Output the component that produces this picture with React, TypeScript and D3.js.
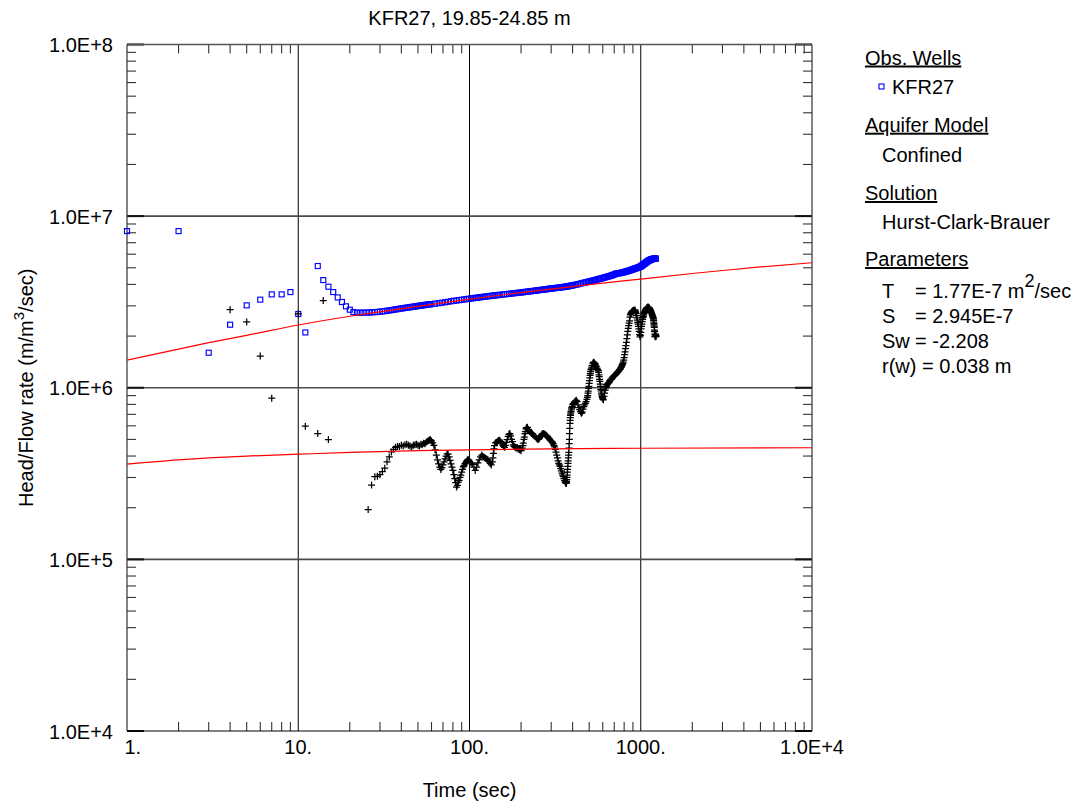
import React from "react";
import * as d3 from "d3";

// Axis ticks and labels
const xTickValues = [1, 10, 100, 1000, 10000];
const xTickLabels = ["1.", "10.", "100.", "1000.", "1.0E+4"];
const yTickValues = [1e4, 1e5, 1e6, 1e7, 1e8];
const yTickLabels = ["1.0E+4", "1.0E+5", "1.0E+6", "1.0E+7", "1.0E+8"];

// Observed head / flow rate for KFR27: [time (s), value in units of 1e6 m/m3/sec]
const HEAD_UNIT = 1e6;
const kfr27Head: [number, number][] = [
  [1, 8.18], [2, 8.18], [3, 1.6], [4, 2.33], [5, 3.02], [6, 3.26], [7, 3.5], [8, 3.5],
  [9, 3.61], [10, 2.69], [11, 2.1], [13, 5.12], [14, 4.24], [15, 3.88], [16, 3.61],
  [17, 3.36], [18, 3.16], [19, 2.98], [20, 2.85], [21, 2.76], [22, 2.74], [23, 2.74],
  [24, 2.74], [25, 2.742], [26, 2.745], [27, 2.75], [28, 2.757], [29, 2.765], [30, 2.775],
  [31, 2.785], [32, 2.797], [33, 2.81], [34, 2.822], [35, 2.835], [36, 2.848], [37, 2.86],
  [38, 2.872], [39, 2.885], [40, 2.897], [41, 2.907], [42, 2.918], [43, 2.928], [44, 2.938],
  [45, 2.948], [46, 2.958], [47, 2.967], [48, 2.976], [49, 2.985], [50, 2.995], [51, 3.003],
  [52, 3.012], [53, 3.02], [54, 3.028], [55, 3.036], [56, 3.044], [57, 3.052], [58, 3.06],
  [59, 3.067], [60, 3.074],
  [63, 3.09], [66, 3.11], [69, 3.13], [72, 3.15], [75, 3.17], [78, 3.19], [81, 3.21],
  [84, 3.225], [87, 3.24], [90, 3.255], [93, 3.27], [96, 3.285], [99, 3.3], [102, 3.31],
  [105, 3.325], [108, 3.34], [111, 3.35], [114, 3.36], [117, 3.375], [120, 3.385],
  [123, 3.395], [126, 3.405], [129, 3.415], [132, 3.425], [135, 3.435], [138, 3.445],
  [141, 3.455], [144, 3.46], [147, 3.47], [150, 3.48],
  [155, 3.49], [160, 3.5], [165, 3.515], [170, 3.525], [175, 3.535], [180, 3.55],
  [185, 3.56], [190, 3.57], [195, 3.58], [200, 3.59], [205, 3.6], [210, 3.615],
  [215, 3.625], [220, 3.635], [225, 3.645], [230, 3.655], [235, 3.665], [240, 3.675],
  [245, 3.685], [250, 3.695], [255, 3.705], [260, 3.715], [265, 3.72], [270, 3.73],
  [275, 3.74], [280, 3.75], [285, 3.76], [290, 3.77], [295, 3.775], [300, 3.785],
  [305, 3.79], [310, 3.8], [315, 3.81], [320, 3.815], [325, 3.82], [330, 3.83],
  [335, 3.835], [340, 3.845], [345, 3.85], [350, 3.86], [355, 3.865], [360, 3.875],
  [365, 3.88], [370, 3.89], [375, 3.9], [380, 3.91], [385, 3.92], [390, 3.93],
  [395, 3.94], [400, 3.95],
  [410, 3.97], [420, 3.99], [430, 4.01], [440, 4.03], [450, 4.06], [460, 4.08], [470, 4.1],
  [480, 4.12], [490, 4.14], [500, 4.16], [510, 4.18], [520, 4.2], [530, 4.22], [540, 4.24],
  [550, 4.26], [560, 4.28], [570, 4.3], [580, 4.32], [590, 4.34], [600, 4.36], [610, 4.38],
  [620, 4.4], [630, 4.42], [640, 4.44], [650, 4.46], [660, 4.48], [670, 4.5], [680, 4.52],
  [690, 4.54], [700, 4.57], [710, 4.6], [720, 4.63], [730, 4.64], [740, 4.64], [750, 4.65],
  [760, 4.66], [770, 4.68], [780, 4.69], [790, 4.7], [800, 4.72], [810, 4.74], [820, 4.75],
  [830, 4.77], [840, 4.79], [850, 4.8], [860, 4.82], [870, 4.84], [880, 4.86], [890, 4.88],
  [900, 4.9], [910, 4.92], [920, 4.94], [930, 4.96], [940, 4.97], [950, 4.99], [960, 5.01],
  [970, 5.03], [980, 5.05], [990, 5.07], [1000, 5.09],
  [1008, 5.12], [1016, 5.15], [1024, 5.18], [1032, 5.21], [1040, 5.24], [1048, 5.27],
  [1056, 5.3], [1064, 5.33], [1072, 5.36], [1080, 5.39], [1088, 5.42], [1096, 5.45],
  [1104, 5.48], [1112, 5.5], [1120, 5.52], [1128, 5.54], [1136, 5.56], [1144, 5.58],
  [1152, 5.6], [1160, 5.61], [1168, 5.62], [1176, 5.63], [1184, 5.64], [1192, 5.65],
  [1200, 5.65], [1208, 5.66], [1216, 5.66], [1225, 5.65],
];

// Derivative of the observed data: [time (s), value in units of 1e5]
const DERIV_UNIT = 1e5;
const kfr27Derivative: [number, number][] = [
  [4, 28.5], [5, 24.2], [6, 15.3], [7, 8.7], [10, 26.9], [11, 5.97], [13, 5.41],
  [14, 32.2], [15, 4.99],
  [25.6, 1.95], [26.8, 2.71], [28, 3.03], [29, 3.05], [30, 3.12], [31, 3.25], [32, 3.4],
  [33, 3.7], [34, 3.95], [35, 4.23], [36, 4.38], [37, 4.5], [38, 4.55], [39, 4.55],
  [40, 4.62], [41, 4.58], [42, 4.65], [43, 4.69], [44, 4.62], [45, 4.58], [46, 4.52],
  [47, 4.62], [48, 4.66], [49, 4.69], [50, 4.62], [51, 4.58], [52, 4.69], [53, 4.66],
  [54, 4.75], [55, 4.72], [56, 4.83], [57, 4.88], [58, 4.95], [59, 4.99], [60, 4.9],
  [61, 4.78], [62, 4.62], [63, 4.35], [64, 4.05], [65, 3.8], [66, 3.6], [67, 3.45],
  [68, 3.34], [69, 3.42], [70, 3.55], [71, 3.7], [72, 3.85], [73, 4.0], [74, 4.12],
  [75, 4.1], [76, 3.95], [77, 3.78], [78, 3.6], [79, 3.45], [80, 3.3], [81, 3.12],
  [82, 2.95], [83, 2.8], [84, 2.64], [85, 2.7], [86, 2.82], [87, 2.89], [88, 3.0],
  [89, 3.1], [90, 3.22], [91, 3.35], [92, 3.46], [93, 3.52], [94, 3.6], [95, 3.65],
  [96, 3.72], [97, 3.78], [98, 3.82], [99, 3.78], [100, 3.72],
  [102, 3.65], [104, 3.58], [106, 3.45], [108, 3.3], [110, 3.45], [112, 3.65],
  [114, 3.8], [116, 3.95], [118, 4.05], [120, 3.98], [122, 3.92], [124, 3.88],
  [126, 3.85], [128, 3.8], [130, 3.72], [132, 3.62], [134, 3.55], [136, 3.7],
  [137, 3.9], [138, 4.15], [139, 4.4], [140, 4.6], [142, 4.78], [144, 4.82],
  [146, 4.88], [148, 4.92], [150, 4.95], [152, 4.85], [154, 4.75], [156, 4.65],
  [158, 4.55], [160, 4.5], [162, 4.62], [164, 4.8], [166, 4.98], [168, 5.2],
  [170, 5.35], [172, 5.41], [174, 5.25], [176, 5.0], [178, 4.85], [180, 4.65],
  [182, 4.55], [184, 4.52], [186, 4.48], [188, 4.45], [190, 4.48], [192, 4.4],
  [194, 4.42], [196, 4.35], [198, 4.38], [200, 4.3],
  [203, 4.45], [205, 4.6], [206, 4.75], [208, 5.0], [209, 5.15], [211, 5.4],
  [212, 5.55], [214, 5.75], [215, 5.85], [218, 5.88],
  [221, 5.72], [224, 5.6], [227, 5.5], [230, 5.42], [233, 5.35], [236, 5.3],
  [239, 5.25], [242, 5.2], [245, 5.12], [248, 5.05], [251, 5.0], [254, 5.02],
  [257, 5.1], [260, 5.2], [263, 5.3], [266, 5.38], [269, 5.42], [272, 5.4],
  [275, 5.35], [278, 5.3], [281, 5.28], [284, 5.22], [287, 5.15], [290, 5.08],
  [293, 5.02], [296, 4.95], [299, 4.9], [302, 4.85], [305, 4.8], [308, 4.73],
  [311, 4.62], [314, 4.52], [317, 4.38], [320, 4.22], [323, 4.05], [326, 3.9],
  [329, 3.75], [332, 3.62], [335, 3.55], [338, 3.48], [341, 3.38], [344, 3.28],
  [347, 3.18], [350, 3.1], [353, 3.03], [356, 2.95], [359, 2.88], [362, 2.82],
  [364, 2.8], [366, 2.78], [367, 2.77], [368, 2.8], [369, 2.85], [370, 2.92],
  [371, 3.0], [372, 3.1], [373, 3.22], [374, 3.35], [375, 3.48], [376, 3.62],
  [377, 3.75], [378, 3.9], [379, 4.05], [380, 4.2], [381, 4.45], [382, 4.72],
  [383, 5.0], [384, 5.4], [385, 5.8], [386, 6.2], [387, 6.45], [388, 6.7],
  [389, 6.9], [390, 7.05], [391, 7.2], [392, 7.3], [394, 7.5], [396, 7.65],
  [398, 7.8], [401, 8.0],
  [405, 8.1], [410, 8.25], [415, 8.35], [420, 8.45], [425, 8.3], [430, 7.95],
  [435, 7.65], [440, 7.45], [445, 7.25], [450, 7.1], [455, 7.2], [460, 7.5],
  [465, 7.75], [470, 7.95], [475, 8.1], [480, 8.3], [485, 8.55], [488, 8.8],
  [490, 9.0], [492, 9.3], [494, 9.55], [496, 9.9], [498, 10.2], [500, 10.6],
  [502, 11.0], [504, 11.4], [506, 11.8], [508, 12.1], [510, 12.4], [512, 12.7],
  [514, 12.9], [517, 13.2], [520, 13.5],
  [525, 13.9], [530, 14.1], [535, 14.0], [540, 13.8], [545, 13.6], [550, 13.3],
  [555, 13.0], [560, 12.8], [565, 12.6], [567, 12.3], [570, 11.9], [572, 11.6],
  [575, 11.2], [577, 10.9], [580, 10.5], [582, 10.2], [585, 9.8], [587, 9.6],
  [590, 9.3], [592, 9.1], [595, 8.9], [597, 8.75], [600, 8.6], [605, 8.5], [610, 8.9],
  [615, 9.3], [620, 9.7], [625, 10.0], [630, 10.2], [635, 10.4], [640, 10.5], [645, 10.6],
  [650, 10.7], [655, 10.8], [660, 11.0], [665, 11.1], [670, 11.2], [675, 11.2],
  [680, 11.4], [685, 11.4], [690, 11.6], [695, 11.7], [700, 11.8], [705, 11.8],
  [710, 11.9], [715, 12.0], [720, 12.1], [725, 12.1], [730, 12.3], [735, 12.4],
  [740, 12.4], [745, 12.6], [750, 12.7], [755, 12.8], [760, 12.9], [765, 13.1],
  [770, 13.2], [775, 13.4], [780, 13.6], [785, 13.8], [790, 14.1], [795, 14.5],
  [800, 15.0], [805, 15.6], [810, 16.2], [815, 16.9], [820, 17.6], [825, 18.4],
  [830, 19.3], [835, 20.3], [840, 21.3], [845, 22.2], [850, 23.0], [855, 23.8],
  [860, 24.5], [865, 25.8], [870, 26.6], [875, 27.0], [880, 27.3], [885, 27.6],
  [890, 27.8], [895, 28.0], [900, 28.1], [905, 28.2], [910, 28.3], [915, 28.3],
  [920, 28.4], [925, 28.3], [930, 28.0], [935, 27.5], [940, 27.0], [945, 26.3],
  [950, 25.5], [955, 24.8], [960, 24.0], [965, 23.5], [970, 22.8], [975, 22.0],
  [980, 21.3], [985, 20.4], [990, 19.8], [995, 20.2], [1000, 21.0], [1005, 22.0],
  [1010, 22.8], [1015, 23.5], [1020, 24.3], [1025, 25.0], [1030, 25.6], [1035, 26.0],
  [1040, 26.5], [1045, 27.0], [1050, 27.4], [1055, 27.8], [1060, 28.0], [1065, 28.3],
  [1070, 28.6], [1075, 28.8], [1080, 29.0], [1085, 29.2], [1090, 29.3], [1095, 29.4],
  [1100, 29.5], [1105, 29.5], [1110, 29.4], [1115, 29.3], [1120, 29.2], [1125, 29.0],
  [1130, 28.7], [1135, 28.5], [1140, 28.2], [1145, 27.9], [1150, 27.6], [1155, 27.3],
  [1160, 27.0], [1165, 26.7], [1170, 26.3], [1175, 26.0], [1180, 25.8], [1185, 25.4],
  [1188, 24.9], [1190, 24.5], [1193, 23.9], [1195, 23.5], [1198, 22.9], [1200, 22.5],
  [1203, 21.7], [1205, 21.2], [1208, 20.5], [1210, 20.0], [1215, 19.8],
  [1220, 20.5], [1225, 20.2], [1230, 19.9],
];

// Hurst-Clark-Brauer solution curve and its derivative: [time (s), value]
const modelHead: [number, number][] = [
  [1, 1.45e6], [2, 1.68e6], [3, 1.83e6], [5, 2.02e6], [10, 2.32e6], [20, 2.61e6],
  [30, 2.77e6], [50, 2.98e6], [100, 3.28e6], [150, 3.46e6], [200, 3.58e6], [300, 3.76e6],
  [500, 3.99e6], [1000, 4.3e6], [2000, 4.63e6], [3000, 4.82e6], [5000, 5.06e6],
  [10000, 5.35e6],
];
const modelDerivative: [number, number][] = [
  [1, 3.59e5], [2, 3.8e5], [3, 3.9e5], [5, 4.0e5], [10, 4.1e5], [20, 4.2e5],
  [50, 4.3e5], [100, 4.35e5], [300, 4.4e5], [1000, 4.44e5], [10000, 4.47e5],
];

const FONT = "'Liberation Sans', Arial, Helvetica, sans-serif";

export default function App() {
  const W = 1090;
  const H = 802;
  const left = 127;
  const right = 812;
  const top = 44.5;
  const bottom = 731;

  const x = d3.scaleLog().domain([1, 1e4]).range([left, right]);
  const y = d3.scaleLog().domain([1e4, 1e8]).range([bottom, top]);

  const isDecade = (v: number) => Math.abs(Math.log10(v) - Math.round(Math.log10(v))) < 1e-9;
  const minorX = x.ticks().filter((v) => !isDecade(v));
  const minorY = y.ticks().filter((v) => !isDecade(v));

  const line = d3
    .line<[number, number]>()
    .x((d) => x(d[0]))
    .y((d) => y(d[1]))
    .curve(d3.curveMonotoneX);

  const crossPath = kfr27Derivative
    .map((d) => {
      const cx = x(d[0]);
      const cy = y(d[1] * DERIV_UNIT);
      return `M${cx - 3.5},${cy}H${cx + 3.5}M${cx},${cy - 3.5}V${cy + 3.5}`;
    })
    .join("");

  const minorLen = 9;
  const majorLen = 17;

  return (
    <svg
      width={W}
      height={H}
      style={{ position: "absolute", left: 0, top: 0, background: "#fff" }}
      fontFamily={FONT}
      fontSize={20}
    >
      <rect x={0} y={0} width={W} height={H} fill="#fff" />

      {/* decade grid */}
      {xTickValues
        .filter((v) => v > 1 && v < 1e4)
        .map((v) => (
          <line key={`gx${v}`} x1={x(v)} x2={x(v)} y1={top} y2={bottom} stroke="#000" strokeWidth={1} />
        ))}
      {yTickValues
        .filter((v) => v > 1e4 && v < 1e8)
        .map((v) => (
          <line key={`gy${v}`} x1={left} x2={right} y1={y(v)} y2={y(v)} stroke="#4a4a4a" strokeWidth={1.6} />
        ))}

      {/* minor ticks on all four sides */}
      {minorX.map((v) => (
        <g key={`mx${v}`} stroke="#333" strokeWidth={1.1}>
          <line x1={x(v)} x2={x(v)} y1={bottom} y2={bottom - minorLen} />
          <line x1={x(v)} x2={x(v)} y1={top} y2={top + minorLen} />
        </g>
      ))}
      {minorY.map((v) => (
        <g key={`my${v}`} stroke="#333" strokeWidth={1.1}>
          <line x1={left} x2={left + minorLen} y1={y(v)} y2={y(v)} />
          <line x1={right} x2={right - minorLen} y1={y(v)} y2={y(v)} />
        </g>
      ))}
      {yTickValues.map((v) => (
        <g key={`My${v}`} stroke="#111" strokeWidth={2}>
          <line x1={left} x2={left + majorLen} y1={y(v)} y2={y(v)} />
          <line x1={right} x2={right - majorLen} y1={y(v)} y2={y(v)} />
        </g>
      ))}

      {/* frame */}
      <line x1={left} x2={right} y1={top} y2={top} stroke="#555" strokeWidth={1.6} />
      <line x1={left} x2={right} y1={bottom} y2={bottom} stroke="#000" strokeWidth={1} />
      <line x1={left} x2={left} y1={top} y2={bottom} stroke="#333" strokeWidth={1.2} />
      <line x1={right} x2={right} y1={top} y2={bottom} stroke="#333" strokeWidth={1.2} />

      {/* observed data */}
      <g fill="none" stroke="#0000ff" strokeWidth={1.15}>
        {kfr27Head.map((d, i) => (
          <rect
            key={`h${i}`}
            x={x(d[0]) - 2.5}
            y={y(d[1] * HEAD_UNIT) - 2.5}
            width={5}
            height={5}
          />
        ))}
      </g>
      <path d={crossPath} stroke="#000" strokeWidth={1.25} fill="none" />

      {/* solution curves */}
      <path d={line(modelHead) ?? ""} fill="none" stroke="#ff0000" strokeWidth={1.2} />
      <path d={line(modelDerivative) ?? ""} fill="none" stroke="#ff0000" strokeWidth={1.2} />

      {/* tick labels */}
      {xTickValues.map((v, i) => (
        <text
          key={`xl${v}`}
          x={i === 0 ? x(v) - 2.5 : x(v)}
          y={753.5}
          textAnchor={i === 0 ? "start" : "middle"}
          fill="#000"
        >
          {xTickLabels[i]}
        </text>
      ))}
      {yTickValues.map((v, i) => (
        <text key={`yl${v}`} x={113} y={y(v) + 7.5} textAnchor="end" fill="#000">
          {yTickLabels[i]}
        </text>
      ))}

      {/* titles */}
      <text x={(left + right) / 2} y={25} textAnchor="middle" fill="#000">
        KFR27, 19.85-24.85 m
      </text>
      <text x={(left + right) / 2} y={797} textAnchor="middle" fill="#000">
        Time (sec)
      </text>
      <text
        transform={`translate(33,${(top + bottom) / 2}) rotate(-90)`}
        textAnchor="middle"
        fill="#000"
      >
        Head/Flow rate (m/m
        <tspan dy={-9} fontSize={15}>3</tspan>
        <tspan dy={9}>/sec)</tspan>
      </text>

      {/* legend */}
      <g fill="#000">
        <text x={865} y={64.5} textDecoration="underline">Obs. Wells</text>
        <rect x={879} y={84} width={5} height={5} fill="none" stroke="#0000ff" strokeWidth={1.1} />
        <text x={892} y={94.3}>KFR27</text>
        <text x={865} y={131.7} textDecoration="underline">Aquifer Model</text>
        <text x={882} y={161.7}>Confined</text>
        <text x={865} y={200} textDecoration="underline">Solution</text>
        <text x={882} y={229}>Hurst-Clark-Brauer</text>
        <text x={865} y={266} textDecoration="underline">Parameters</text>
        <text x={882} y={298}>T</text>
        <text x={915} y={298}>
          = 1.77E-7 m<tspan dy={-11} fontSize={18}>2</tspan>
          <tspan dy={11}>/sec</tspan>
        </text>
        <text x={882} y={323}>S</text>
        <text x={915} y={323}>= 2.945E-7</text>
        <text x={882} y={348}>Sw</text>
        <text x={915} y={348}>= -2.208</text>
        <text x={882} y={373}>r(w) = 0.038 m</text>
      </g>
    </svg>
  );
}
